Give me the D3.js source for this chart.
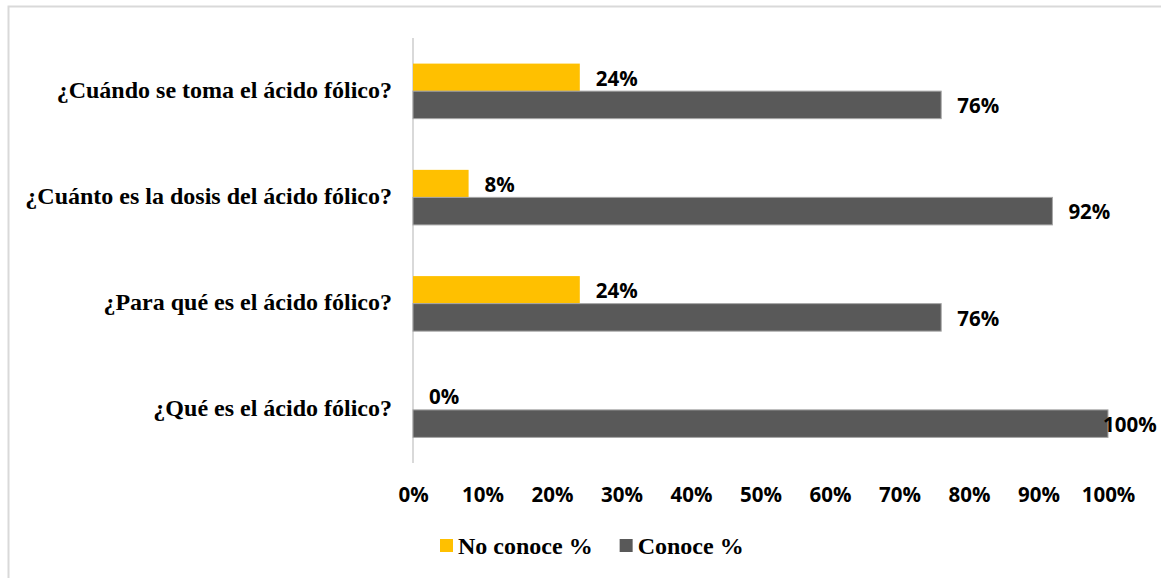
<!DOCTYPE html>
<html>
<head>
<meta charset="utf-8">
<script src="https://cdn.jsdelivr.net/npm/d3@7"></script>
<style>
  body { margin: 0; background: #fff; }
  svg { display: block; }
  .cat { font-family: "Liberation Serif", "Times New Roman", serif; font-weight: bold; font-size: 24px; fill: #000; }
  .num { font-family: "Open Sans", sans-serif; font-weight: bold; font-size: 20.5px; fill: #000; }
</style>
</head>
<body>
<div id="chart"></div>
<script>
  var categories = [
    "¿Cuándo se toma el ácido fólico?",
    "¿Cuánto es la dosis del ácido fólico?",
    "¿Para qué es el ácido fólico?",
    "¿Qué es el ácido fólico?"
  ];
  var seriesNames = ["No conoce %", "Conoce %"];
  var noConoce = [24, 8, 24, 0];
  var conoce = [76, 92, 76, 100];
  var tickValues = [0, 10, 20, 30, 40, 50, 60, 70, 80, 90, 100];
  var colors = ["#FFC000", "#595959"];

  var width = 1161, height = 578;
  var margin = {top: 38, left: 413, right: 53, bottom: 115};

  var svg = d3.select("#chart")
    .append("svg")
    .attr("width", width)
    .attr("height", height);

  // light frame of the chart area
  svg.append("rect")
    .attr("x", 8.5).attr("y", 6.5)
    .attr("width", 1200).attr("height", 700)
    .attr("fill", "none")
    .attr("stroke", "#d9d9d9")
    .attr("stroke-width", 2);

  var series = [noConoce, conoce];
  var rows = categories.map(function(c, i) {
    return {cat: c, values: seriesNames.map(function(s, j) { return {name: s, idx: j, v: series[j][i]}; })};
  });

  var xScale = d3.scaleLinear()
    .domain([0, 100])
    .range([margin.left, width - margin.right]);

  var yScale = d3.scaleBand()
    .domain(categories)
    .range([margin.top, height - margin.bottom]);

  var ySub = d3.scaleBand()
    .domain(seriesNames)
    .range([0, yScale.bandwidth()])
    .paddingInner(0)
    .paddingOuter(0.93);

  // x axis (labels only)
  var xAxis = svg.append("g")
    .attr("transform", `translate(0,${height - margin.bottom})`)
    .call(d3.axisBottom(xScale).tickValues(tickValues).tickSize(0).tickPadding(24)
      .tickFormat(function(d) { return d + "%"; }));
  xAxis.select(".domain").remove();
  xAxis.selectAll("text").attr("class", "num").attr("font-family", null).attr("font-size", null);

  // category axis line + labels
  svg.append("line")
    .attr("x1", xScale(0)).attr("x2", xScale(0))
    .attr("y1", margin.top).attr("y2", height - margin.bottom)
    .attr("stroke", "#d9d9d9")
    .attr("stroke-width", 2);

  svg.selectAll(".cat")
    .data(categories)
    .enter()
    .append("text")
      .attr("class", "cat")
      .attr("x", 392)
      .attr("y", function(d) { return yScale(d) + yScale.bandwidth() / 2 - 2; })
      .attr("dy", "0.35em")
      .attr("text-anchor", "end")
      .text(function(d) { return d; });

  var group = svg.selectAll(".grp")
    .data(rows)
    .enter()
    .append("g")
      .attr("class", "grp")
      .attr("transform", function(d) { return `translate(0,${yScale(d.cat)})`; });

  group.selectAll("rect")
    .data(function(d) { return d.values; })
    .enter()
    .append("rect")
      .attr("x", xScale(0))
      .attr("y", function(d) { return ySub(d.name); })
      .attr("width", function(d) { return xScale(d.v) - xScale(0); })
      .attr("height", ySub.bandwidth())
      .attr("fill", function(d) { return colors[d.idx]; })
      .attr("stroke", function(d) { return d.idx === 1 ? "#a6a6a6" : "none"; })
      .attr("stroke-width", 1);

  group.selectAll(".num")
    .data(function(d) { return d.values; })
    .enter()
    .append("text")
      .attr("class", "num")
      .attr("x", function(d) { return Math.min(xScale(d.v) + 16, xScale(100) - 5); })
      .attr("y", function(d) { return ySub(d.name) + ySub.bandwidth() / 2 + 1; })
      .attr("dy", "0.35em")
      .text(function(d) { return d.v + "%"; });

  // legend
  var legend = svg.append("g").attr("transform", "translate(440,0)");
  var lx = 0;
  seriesNames.forEach(function(s, i) {
    legend.append("rect")
      .attr("x", lx).attr("y", 539)
      .attr("width", 13).attr("height", 13)
      .attr("fill", colors[i]);
    var t = legend.append("text")
      .attr("class", "cat")
      .attr("x", lx + 18)
      .attr("y", 554)
      .text(s);
    lx += 18 + t.node().getComputedTextLength() + 27;
  });
</script>
</body>
</html>
